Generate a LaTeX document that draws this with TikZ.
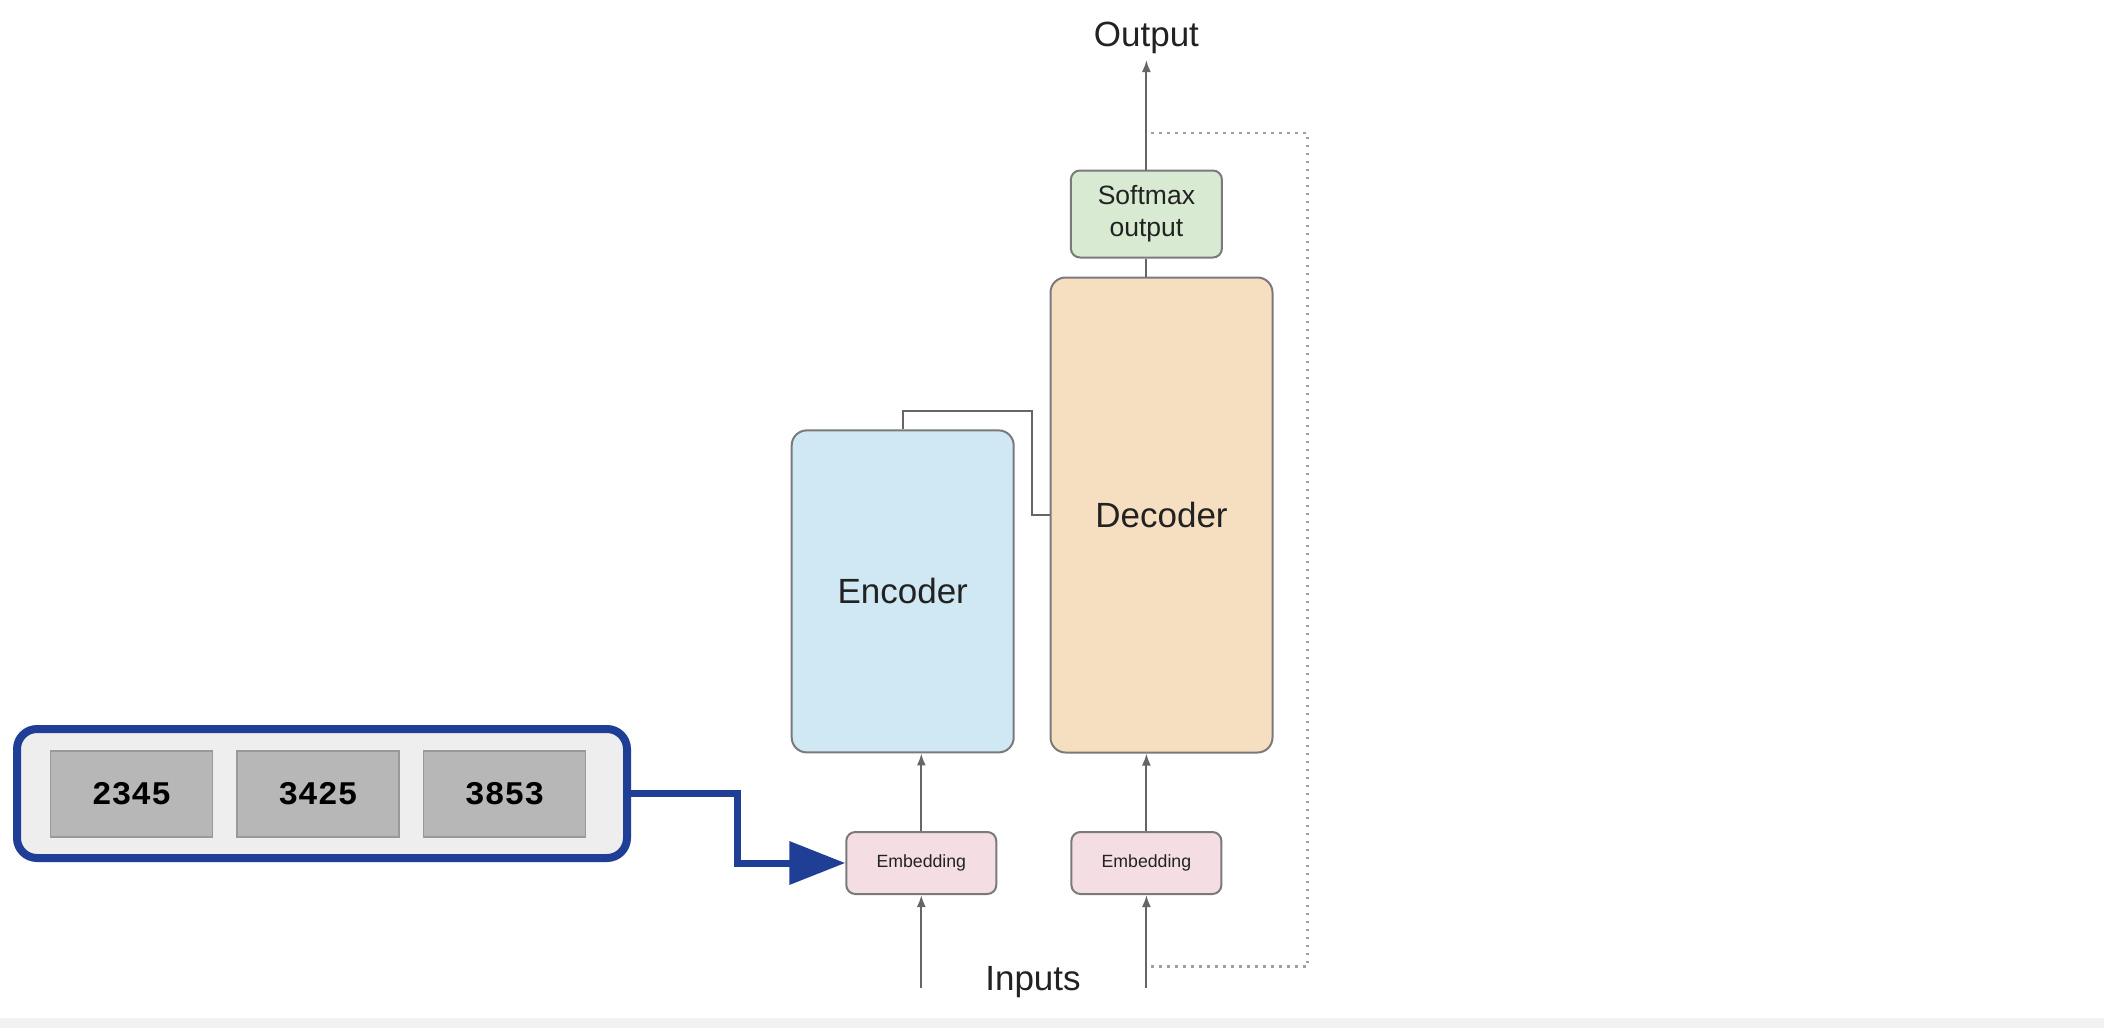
\documentclass[tikz,border=0pt]{standalone}
\usepackage{fontspec}
\setmainfont{Liberation Sans}
\setmonofont{Liberation Mono}
\usetikzlibrary{arrows.meta}
\definecolor{lineg}{HTML}{666666}
\definecolor{boxedge}{HTML}{7A7A7A}
\definecolor{encfill}{HTML}{CFE8F3}
\definecolor{decfill}{HTML}{F6DFC0}
\definecolor{smfill}{HTML}{D9EAD3}
\definecolor{embfill}{HTML}{F4DEE3}
\definecolor{navy}{HTML}{1F3F96}
\definecolor{panel}{HTML}{EEEEEF}
\definecolor{tok}{HTML}{B7B7B7}
\definecolor{tokedge}{HTML}{999999}
\definecolor{txt}{HTML}{222222}
\definecolor{dotg}{HTML}{A0A0A0}
\tikzset{
  block/.style={draw=boxedge, line width=2pt, rounded corners=15pt, text=txt,
    font=\fontsize{35}{42}\selectfont},
  smallblock/.style={draw=boxedge, line width=2pt, rounded corners=9pt, text=txt, align=center},
  tokbox/.style={draw=tokedge, fill=tok, line width=1.5pt, minimum width=162pt, minimum height=86pt,
    font=\ttfamily\bfseries\fontsize{33}{40}\selectfont, text=black},
  conn/.style={draw=lineg, line width=2pt},
  arr/.style={conn, -{Latex[length=12pt,width=9pt]}},
  label/.style={text=txt, font=\fontsize{35}{42}\selectfont, inner sep=0pt},
}
\begin{document}
\begin{tikzpicture}[x=1pt,y=-1pt]
\useasboundingbox (0,0) rectangle (2104,1028);
\fill[white] (0,0) rectangle (2104,1028);
\fill[black!5] (0,1018) rectangle (2104,1028);

% main blocks
\node[block, fill=encfill, minimum width=222pt, minimum height=322pt] (enc) at (902.7,591.4) {Encoder};
\node[block, fill=decfill, minimum width=222pt, minimum height=475pt] (dec) at (1161.5,515) {Decoder};
\node[smallblock, fill=smfill, minimum width=151pt, minimum height=87pt,
  font=\fontsize{26.5}{32}\selectfont] (sm) at (1146.4,214) {Softmax\\output};
\node[smallblock, fill=embfill, minimum width=150pt, minimum height=62pt,
  font=\fontsize{17.7}{21}\selectfont] (emb1) at (921.3,863) {Embedding};
\node[smallblock, fill=embfill, minimum width=150pt, minimum height=62pt,
  font=\fontsize{17.7}{21}\selectfont] (emb2) at (1146.4,863) {Embedding};

% labels
\node[label, anchor=base] (out) at (1146.4,46) {Output};
\node[label, anchor=base] (inp) at (1033,990) {Inputs};

% coordinates
\coordinate (outtip) at (1146.4,60);
\coordinate (in1) at (921.3,988);
\coordinate (in2) at (1146.4,988);
\coordinate (cA) at (1032,411);
\coordinate (dA) at (1151,133);
\coordinate (dB) at (1307.5,133);
\coordinate (dC) at (1307.5,966.7);
\coordinate (dD) at (1151,966.7);

% connectors
\draw[arr] (in1) -- (emb1.south);
\draw[arr] (in2) -- (emb2.south);
\draw[arr] (emb1.north) -- (emb1.north |- enc.south);
\draw[arr] (emb2.north) -- (emb2.north |- dec.south);
\draw[conn] (sm.south) -- (sm.south |- dec.north);
\draw[arr] (sm.north) -- (outtip);
\draw[conn] (enc.north) |- (cA) |- (dec.west);
\draw[draw=dotg, line width=2.5pt, dash pattern=on 2.5pt off 5.5pt] (dA) -- (dB) -- (dC) -- (dD);

% token panel
\node[draw=navy, fill=panel, line width=8pt, rounded corners=20pt,
  minimum width=610pt, minimum height=129pt] (panel) at (322,793.5) {};
\node[tokbox] (t1) at (131.5,794) {2345};
\node[tokbox] (t2) at (318,794) {3425};
\node[tokbox] (t3) at (504.6,794) {3853};
\coordinate (bA) at (737.6,793.5);
\draw[draw=navy, line width=7pt, -{Triangle[length=56pt,width=42pt]}]
  (panel.east) -- (bA) |- (emb1.west);
\end{tikzpicture}
\end{document}
